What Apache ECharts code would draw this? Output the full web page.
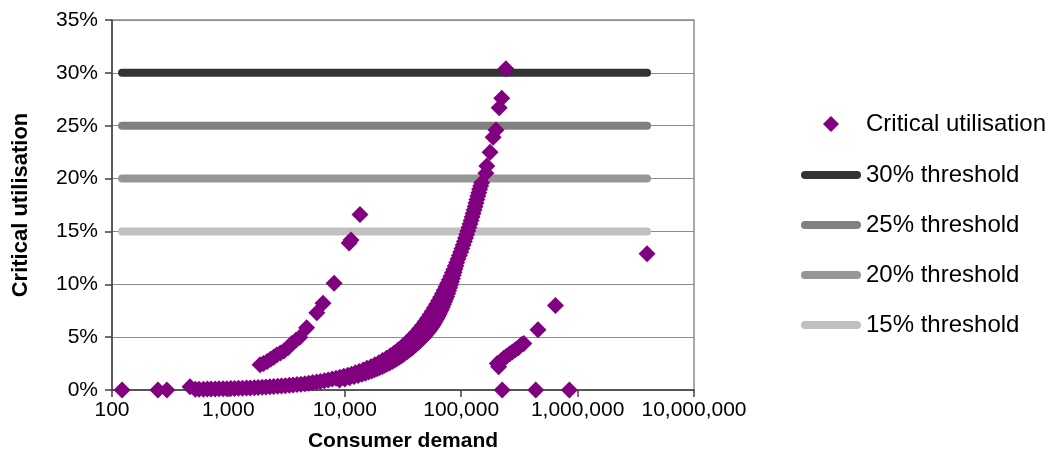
<!DOCTYPE html>
<html>
<head>
<meta charset="utf-8">
<script src="https://cdn.jsdelivr.net/npm/echarts@6/dist/echarts.min.js"></script>
<style>
  html, body { margin: 0; padding: 0; background: #ffffff; }
  #chart { width: 1050px; height: 456px; }
</style>
</head>
<body>
<div id="chart"></div>
<script>
// Critical utilisation (%) against consumer demand, as [demand, utilisation] pairs.
const mainBand = [
  [520, 0.07], [560, 0.07], [610, 0.08], [660, 0.09], [710, 0.09], [770, 0.10],
  [830, 0.11], [900, 0.12], [970, 0.13], [1050, 0.14], [1130, 0.15], [1220, 0.16],
  [1320, 0.17], [1430, 0.19], [1540, 0.20], [1670, 0.22], [1800, 0.24], [1950, 0.26],
  [2100, 0.28], [2270, 0.30], [2450, 0.32], [2650, 0.35], [2860, 0.38], [3090, 0.41],
  [3340, 0.44], [3600, 0.47], [3890, 0.51], [4200, 0.55], [4540, 0.60], [4900, 0.65],
  [5290, 0.70], [5720, 0.75], [6170, 0.81], [6670, 0.88], [7200, 0.95], [7780, 1.03],
  [8400, 1.11], [9070, 1.20], [9800, 1.29], [10600, 1.40], [11400, 1.50], [12300, 1.62],
  [13300, 1.75], [14400, 1.90], [15500, 2.05], [16800, 2.21], [18100, 2.39], [19600, 2.58],
  [21100, 2.79], [22800, 3.01], [24600, 3.25], [26600, 3.51], [28700, 3.79], [31000, 4.09],
  [33500, 4.42], [36200, 4.77], [39100, 5.15], [41500, 5.47], [44000, 5.80], [46500, 6.13],
  [49000, 6.46], [51500, 6.79], [54000, 7.12], [56500, 7.45], [59000, 7.78], [61500, 8.11],
  [64000, 8.44], [66500, 8.77], [69000, 9.10], [71500, 9.43], [74000, 9.76], [76500, 10.09],
  [79000, 10.42], [81500, 10.75], [84000, 11.08], [86500, 11.41], [89000, 11.74], [91500, 12.07],
  [94000, 12.40], [96500, 12.73], [99000, 13.06], [101500, 13.39], [104000, 13.72], [106500, 14.05],
  [109000, 14.38], [111500, 14.71], [114000, 15.04], [116500, 15.37], [119000, 15.70], [121500, 16.03],
  [124000, 16.36], [126500, 16.69], [129000, 17.02], [131500, 17.35], [134000, 17.68], [136500, 18.01],
  [139000, 18.34], [141500, 18.67], [144000, 19.00], [147000, 19.30], [150000, 19.60],
  [163000, 20.5], [166000, 21.2], [177000, 22.5], [188000, 23.9], [199000, 24.6],
  [212000, 26.7], [223000, 27.6], [242000, 30.4]
];
// Lower edge of the main band, where the spread of utilisation is widest.
const mainBandLower = [
  [9000, 0.95], [10000, 1.05], [11000, 1.16], [12000, 1.27], [13000, 1.38], [14000, 1.48],
  [15000, 1.59], [16000, 1.70], [17000, 1.80], [18000, 1.91], [19000, 2.01], [20000, 2.12],
  [21000, 2.22], [22000, 2.33], [23000, 2.43], [24200, 2.56], [25500, 2.69], [26700, 2.82],
  [28000, 2.96], [29300, 3.09], [30500, 3.22], [31700, 3.36], [33000, 3.49], [34500, 3.64],
  [36000, 3.80], [37500, 3.96], [39000, 4.12], [40500, 4.28], [42000, 4.44], [43500, 4.59],
  [45000, 4.75], [46500, 4.91], [48000, 5.07], [49500, 5.23], [51000, 5.39], [52500, 5.56],
  [54000, 5.74], [55500, 5.93], [57000, 6.12], [58500, 6.32], [60000, 6.52], [61500, 6.73],
  [63000, 6.95], [64500, 7.17], [66000, 7.40], [67500, 7.62], [69000, 7.85], [70500, 8.10],
  [72000, 8.35], [73500, 8.60], [75000, 8.85], [76500, 9.12], [78000, 9.40], [79500, 9.67],
  [81000, 9.95], [82500, 10.25], [84000, 10.55], [85500, 10.85], [87000, 11.15], [88500, 11.45],
  [90000, 11.75]
];
const steepBranch = [
  [1870, 2.4], [2000, 2.5], [2150, 2.7], [2300, 2.9], [2450, 3.1], [2600, 3.3],
  [2800, 3.5], [3000, 3.7], [3250, 4.0], [3500, 4.4], [3800, 4.7], [4100, 5.0],
  [4700, 5.9], [5750, 7.3], [6500, 8.2], [8100, 10.1], [10900, 13.9], [11300, 14.2],
  [13500, 16.6]
];
const shallowBranch = [
  [204000, 2.5], [210000, 2.2], [215000, 2.6], [222000, 2.8], [232000, 3.0], [245000, 3.2],
  [260000, 3.4], [275000, 3.6], [292000, 3.8], [310000, 4.0], [330000, 4.3], [345000, 4.4],
  [457000, 5.7], [645000, 8.0]
];
const zeroPoints = [
  [122, 0], [248, 0], [296, 0], [468, 0.3], [225000, 0], [437000, 0], [850000, 0]
];
const outliers = [[3950000, 12.9]];

// Horizontal threshold levels spanning the demand range of the data.
const thresholdNames = ['30% threshold', '25% threshold', '20% threshold', '15% threshold'];
const thresholdLevels = [30, 25, 20, 15];
const thresholdColors = ['#333333', '#808080', '#969696', '#c0c0c0'];
const demandRange = [122, 3950000];

const scatterName = 'Critical utilisation';
const purple = '#800080';
const font = 'Liberation Sans, Arial, sans-serif';

const chart = echarts.init(document.getElementById('chart'), null, { renderer: 'canvas' });

const lineSeries = thresholdNames.map((name, i) => ({
  name: name,
  type: 'line',
  data: demandRange.map(d => [d, thresholdLevels[i]]),
  symbol: 'none',
  silent: true,
  color: thresholdColors[i],
  lineStyle: { color: thresholdColors[i], width: 8, cap: 'round' },
  z: 2
}));

const legendText = { fontFamily: font, fontSize: 24, color: '#000', lineHeight: 24 };

const option = {
  animation: false,
  backgroundColor: '#ffffff',
  textStyle: { fontFamily: font },
  grid: {
    left: 112, right: 356, top: 20, bottom: 66,
    outerBoundsMode: 'none',
    containLabel: false,
    show: true, borderColor: '#8c8c8c', borderWidth: 1.5, backgroundColor: 'transparent'
  },
  legend: [
    {
      data: [scatterName],
      orient: 'vertical',
      left: 796, top: 107,
      itemWidth: 60, itemHeight: 16,
      // small diamond centred in a 60 px wide slot
      icon: 'path://M0,0M60,16M22,8L30,0L38,8L30,16Z',
      symbolKeepAspect: false,
      itemStyle: { borderWidth: 0 },
      textStyle: legendText,
      selectedMode: false
    },
    {
      data: thresholdNames,
      orient: 'vertical',
      left: 796, top: 158,
      itemWidth: 60, itemHeight: 8, itemGap: 26,
      icon: 'path://M4,0L56,0A4,4,0,0,1,56,8L4,8A4,4,0,0,1,4,0Z',
      symbolKeepAspect: false,
      itemStyle: { borderWidth: 0 },
      textStyle: legendText,
      selectedMode: false
    }
  ],
  xAxis: {
    type: 'log',
    logBase: 10,
    min: 100,
    max: 10000000,
    name: 'Consumer demand',
    nameLocation: 'middle',
    nameGap: 41,
    nameTextStyle: { fontFamily: font, fontSize: 21, fontWeight: 'bold', color: '#000' },
    axisLine: { lineStyle: { color: '#404040', width: 1.5 } },
    axisTick: { show: true, inside: false, length: 7, lineStyle: { color: '#404040', width: 1.5 } },
    minorTick: { show: false },
    splitLine: { show: false },
    axisLabel: {
      fontFamily: font, fontSize: 21, color: '#000', margin: 10,
      formatter: v => Math.round(v).toLocaleString('en-US')
    }
  },
  yAxis: {
    type: 'value',
    min: 0,
    max: 35,
    interval: 5,
    name: 'Critical utilisation',
    nameLocation: 'middle',
    nameGap: 80,
    nameTextStyle: { fontFamily: font, fontSize: 22, fontWeight: 'bold', color: '#000' },
    axisLine: { show: true, lineStyle: { color: '#404040', width: 1.5 } },
    axisTick: { show: true, inside: false, length: 7, lineStyle: { color: '#404040', width: 1.5 } },
    splitLine: { show: true, lineStyle: { color: '#8c8c8c', width: 1 } },
    axisLabel: {
      fontFamily: font, fontSize: 21, color: '#000', margin: 14,
      formatter: v => v + '%'
    }
  },
  series: lineSeries.concat([
    {
      name: scatterName,
      type: 'scatter',
      symbol: 'diamond',
      symbolSize: 17,
      color: purple,
      itemStyle: { color: purple, opacity: 1 },
      data: mainBand.concat(mainBandLower, steepBranch, shallowBranch, zeroPoints, outliers),
      z: 5
    }
  ])
};

chart.setOption(option);
</script>
</body>
</html>
